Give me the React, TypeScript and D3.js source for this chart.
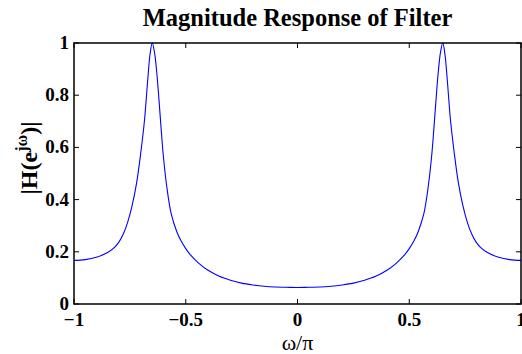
import React from 'react';
import * as d3 from 'd3';

// ω/π samples
const omega = [
  -1.0, -0.95, -0.9, -0.85, -0.82, -0.8, -0.78, -0.76, -0.74, -0.72, -0.7, -0.685, -0.67, -0.66, -0.65,
  -0.64, -0.63, -0.62, -0.61, -0.6, -0.585, -0.565, -0.54, -0.52, -0.5, -0.48, -0.44, -0.4, -0.35,
  -0.3, -0.25, -0.2, -0.15, -0.1, -0.05, 0.0,
  0.05, 0.1, 0.15, 0.2, 0.25, 0.3, 0.35, 0.4, 0.44, 0.48, 0.5, 0.52, 0.54, 0.565, 0.585, 0.6, 0.61,
  0.62, 0.63, 0.64, 0.65, 0.66, 0.67, 0.685, 0.7, 0.72, 0.74, 0.76, 0.78, 0.8, 0.82, 0.85, 0.9, 0.95, 1.0,
];

// |H(e^jω)| values at those points
const magnitude = [
  0.167, 0.170, 0.179, 0.197, 0.216, 0.236, 0.267, 0.313, 0.377, 0.463, 0.588, 0.70, 0.86, 0.955, 1.0,
  0.965, 0.89, 0.785, 0.67, 0.565, 0.45, 0.345, 0.277, 0.24, 0.212, 0.189, 0.155, 0.129, 0.106,
  0.091, 0.080, 0.073, 0.068, 0.065, 0.064, 0.063,
  0.064, 0.065, 0.068, 0.073, 0.080, 0.091, 0.106, 0.129, 0.155, 0.189, 0.212, 0.24, 0.277, 0.345, 0.45, 0.565, 0.67,
  0.785, 0.89, 0.965, 1.0, 0.955, 0.86, 0.70, 0.588, 0.463, 0.377, 0.313, 0.267, 0.236, 0.216, 0.197, 0.179, 0.170, 0.167,
];

const xTicks = [-1, -0.5, 0, 0.5, 1];
const xTickLabels = ['\u22121', '\u22120.5', '0', '0.5', '1'];
const yTicks = [0, 0.2, 0.4, 0.6, 0.8, 1];
const yTickLabels = ['0', '0.2', '0.4', '0.6', '0.8', '1'];

const title = 'Magnitude Response of Filter';

const W = 522;
const H = 354;
const left = 74;
const right = 521;
const top = 43;
const bottom = 304;

export default function App() {
  const x = d3.scaleLinear().domain([-1, 1]).range([left, right]);
  const y = d3.scaleLinear().domain([0, 1]).range([bottom, top]);

  const pts = omega.map((w, i) => ({ w, m: magnitude[i] }));
  const line = d3.line<{ w: number; m: number }>()
    .x(d => x(d.w))
    .y(d => y(d.m))
    .curve(d3.curveCatmullRom.alpha(0.5));

  const font = '"Liberation Serif", "Times New Roman", serif';
  const tickLen = 5;

  return (
    <svg width={W} height={H} style={{ position: 'absolute', left: 0, top: 0, background: '#fff' }}
      fontFamily={font}>
      <rect x={0} y={0} width={W} height={H} fill="#fff" />
      <path d={line(pts) || ''} fill="none" stroke="#0000ff" strokeWidth={1.1} />

      {/* box */}
      <rect x={left} y={top} width={right - left} height={bottom - top} fill="none" stroke="#000" strokeWidth={1.5} />

      {/* x ticks, top and bottom, pointing inward */}
      {xTicks.map((t, i) => (
        <g key={'x' + i}>
          <line x1={x(t)} x2={x(t)} y1={bottom} y2={bottom - tickLen} stroke="#000" strokeWidth={1} />
          <line x1={x(t)} x2={x(t)} y1={top} y2={top + tickLen} stroke="#000" strokeWidth={1} />
          <text x={x(t)} y={326} textAnchor="middle" fontSize={19} fontWeight="bold">{xTickLabels[i]}</text>
        </g>
      ))}

      {/* y ticks, left and right */}
      {yTicks.map((t, i) => (
        <g key={'y' + i}>
          <line x1={left} x2={left + tickLen} y1={y(t)} y2={y(t)} stroke="#000" strokeWidth={1} />
          <line x1={right} x2={right - tickLen} y1={y(t)} y2={y(t)} stroke="#000" strokeWidth={1} />
          <text x={69} y={y(t) + 6} textAnchor="end" fontSize={19} fontWeight="bold">{yTickLabels[i]}</text>
        </g>
      ))}

      <text x={(left + right) / 2} y={26} textAnchor="middle" fontSize={24.5} fontWeight="bold">{title}</text>

      <text x={(left + right) / 2} y={350} textAnchor="middle" fontSize={22}>ω/π</text>

      <text transform="translate(37,158) rotate(-90)" textAnchor="middle" fontSize={24} fontWeight="bold">
        |H(e<tspan fontSize={16} dy={-10}>jω</tspan><tspan dy={10}>)|</tspan>
      </text>
    </svg>
  );
}
